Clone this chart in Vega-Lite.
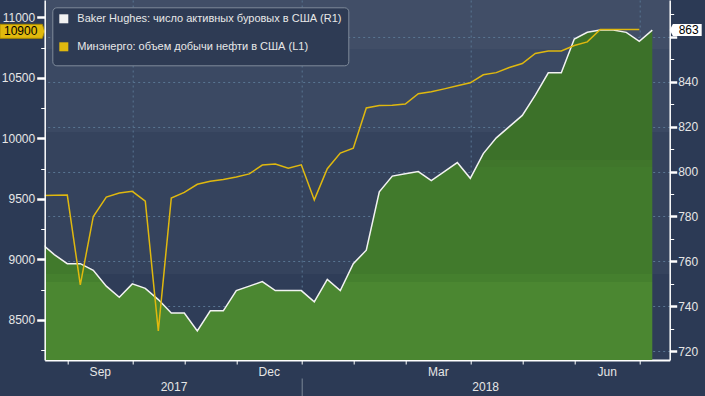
{
  "$schema": "https://vega.github.io/schema/vega-lite/v6.json",
  "width": 625,
  "height": 360,
  "autosize": {"type": "none"},
  "padding": {"left": 44.7, "top": 0, "right": 35.3, "bottom": 36},
  "background": "#2c3a55",
  "config": {
    "font": "Liberation Sans",
    "view": {
      "stroke": null,
      "fill": {
        "gradient": "linear", "x1": 0, "y1": 0, "x2": 0, "y2": 1,
        "stops": [
          {"offset": 0, "color": "#414e67"},
          {"offset": 0.136, "color": "#414e67"},
          {"offset": 0.136, "color": "#3b4963"},
          {"offset": 0.367, "color": "#3b4963"},
          {"offset": 0.367, "color": "#35435d"},
          {"offset": 0.761, "color": "#35435d"},
          {"offset": 0.761, "color": "#2f3d58"},
          {"offset": 1, "color": "#2f3d58"}
        ]
      }
    },
    "axis": {"labelFont": "Liberation Sans", "labelFontSize": 12, "labelColor": "#e6e6e6", "title": null}
  },
  "data": {
    "values": [
      {"date": "2017-08-18", "rigs": 768, "prod": 9528},
      {"date": "2017-08-25", "rigs": 763, "prod": 9530},
      {"date": "2017-09-01", "rigs": 759, "prod": 9532},
      {"date": "2017-09-08", "rigs": 759, "prod": 8790},
      {"date": "2017-09-15", "rigs": 756, "prod": 9355},
      {"date": "2017-09-22", "rigs": 749, "prod": 9515},
      {"date": "2017-09-29", "rigs": 744, "prod": 9549},
      {"date": "2017-10-06", "rigs": 750, "prod": 9563},
      {"date": "2017-10-13", "rigs": 748, "prod": 9481},
      {"date": "2017-10-20", "rigs": 743, "prod": 8410},
      {"date": "2017-10-27", "rigs": 737, "prod": 9508},
      {"date": "2017-11-03", "rigs": 737, "prod": 9554},
      {"date": "2017-11-10", "rigs": 729, "prod": 9621},
      {"date": "2017-11-17", "rigs": 738, "prod": 9645},
      {"date": "2017-11-24", "rigs": 738, "prod": 9660},
      {"date": "2017-12-01", "rigs": 747, "prod": 9681},
      {"date": "2017-12-08", "rigs": 749, "prod": 9707},
      {"date": "2017-12-15", "rigs": 751, "prod": 9780},
      {"date": "2017-12-22", "rigs": 747, "prod": 9789},
      {"date": "2017-12-29", "rigs": 747, "prod": 9754},
      {"date": "2018-01-05", "rigs": 747, "prod": 9782},
      {"date": "2018-01-12", "rigs": 742, "prod": 9492},
      {"date": "2018-01-19", "rigs": 752, "prod": 9750},
      {"date": "2018-01-26", "rigs": 747, "prod": 9879},
      {"date": "2018-02-02", "rigs": 759, "prod": 9919},
      {"date": "2018-02-09", "rigs": 765, "prod": 10251},
      {"date": "2018-02-16", "rigs": 791, "prod": 10271},
      {"date": "2018-02-23", "rigs": 798, "prod": 10273},
      {"date": "2018-03-02", "rigs": 799, "prod": 10283},
      {"date": "2018-03-09", "rigs": 800, "prod": 10369},
      {"date": "2018-03-16", "rigs": 796, "prod": 10385},
      {"date": "2018-03-23", "rigs": 800, "prod": 10409},
      {"date": "2018-03-30", "rigs": 804, "prod": 10434},
      {"date": "2018-04-06", "rigs": 797, "prod": 10459},
      {"date": "2018-04-13", "rigs": 808, "prod": 10525},
      {"date": "2018-04-20", "rigs": 815, "prod": 10543},
      {"date": "2018-04-27", "rigs": 820, "prod": 10585},
      {"date": "2018-05-04", "rigs": 825, "prod": 10618},
      {"date": "2018-05-11", "rigs": 834, "prod": 10701},
      {"date": "2018-05-18", "rigs": 844, "prod": 10721},
      {"date": "2018-05-25", "rigs": 844, "prod": 10722},
      {"date": "2018-06-01", "rigs": 859, "prod": 10767},
      {"date": "2018-06-08", "rigs": 862, "prod": 10797},
      {"date": "2018-06-15", "rigs": 863, "prod": 10900},
      {"date": "2018-06-22", "rigs": 863, "prod": 10900},
      {"date": "2018-06-29", "rigs": 862, "prod": 10900},
      {"date": "2018-07-06", "rigs": 858, "prod": 10900},
      {"date": "2018-07-13", "rigs": 863}
    ]
  },
  "layer": [
    {
      "encoding": {
        "x": {
          "field": "date", "type": "temporal",
          "scale": {"type": "utc", "domain": [{"year": 2017, "month": 8, "date": 19, "hours": 20, "utc": true}, {"year": 2018, "month": 7, "date": 22, "hours": 9, "utc": true}]},
          "axis": {
            "orient": "bottom",
            "values": [
              {"year": 2017, "month": 9, "date": 1, "utc": true},
              {"year": 2017, "month": 10, "date": 6, "utc": true},
              {"year": 2017, "month": 11, "date": 3, "utc": true},
              {"year": 2017, "month": 12, "date": 1, "utc": true},
              {"year": 2018, "month": 1, "date": 5, "utc": true},
              {"year": 2018, "month": 2, "date": 2, "utc": true},
              {"year": 2018, "month": 3, "date": 2, "utc": true},
              {"year": 2018, "month": 4, "date": 6, "utc": true},
              {"year": 2018, "month": 5, "date": 4, "utc": true},
              {"year": 2018, "month": 6, "date": 1, "utc": true},
              {"year": 2018, "month": 7, "date": 6, "utc": true}
            ],
            "labelExpr": "indexof([8,11,2,5], utcmonth(datum.value)) >= 0 ? utcFormat(datum.value, '%b') : ''",
            "labelOffset": 32.5,
            "labelAlign": "center",
            "labelPadding": 2,
            "labelFlush": false,
            "labelOverlap": false,
            "labelBound": false,
            "domainColor": "#ffffff",
            "domainWidth": 2,
            "tickColor": "#ffffff",
            "tickSize": 4,
            "tickWidth": 1,
            "grid": true,
            "gridColor": "#587592",
            "gridDash": [2, 3],
            "gridWidth": 1,
            "gridOpacity": {"condition": {"test": "indexof([9,0,3,6], utcmonth(datum.value)) >= 0", "value": 1}, "value": 0}
          }
        },
        "y": {
          "field": "rigs", "type": "quantitative",
          "scale": {"domain": [716.1, 876.4], "nice": false, "zero": false},
          "axis": {
            "orient": "right",
            "values": [720, 730, 740, 750, 760, 770, 780, 790, 800, 810, 820, 830, 840, 850, 860, 870],
            "labelExpr": "datum.value % 20 === 0 && datum.value !== 860 ? datum.label : ''",
            "labelPadding": 1,
            "domainColor": "#ffffff",
            "domainWidth": 1.5,
            "tickColor": "#ffffff",
            "tickSize": {"condition": {"test": "datum.value % 20 === 0", "value": 7}, "value": 4},
            "tickWidth": {"condition": {"test": "datum.value % 20 === 0", "value": 2.5}, "value": 1},
            "grid": true,
            "gridColor": "#587592",
            "gridDash": [2, 3],
            "gridWidth": 1,
            "gridOpacity": {"condition": {"test": "datum.value % 20 === 0", "value": 1}, "value": 0}
          }
        }
      },
      "layer": [
        {
          "mark": {
            "type": "area", "clip": true,
            "fill": {
              "gradient": "linear", "x1": 0, "y1": 0, "x2": 0, "y2": 1,
              "stops": [
                {"offset": 0, "color": "#3c7129"},
                {"offset": 0.394, "color": "#3c7129"},
                {"offset": 0.394, "color": "#40762b"},
                {"offset": 0.415, "color": "#40762b"},
                {"offset": 0.415, "color": "#417a2c"},
                {"offset": 0.739, "color": "#417a2c"},
                {"offset": 0.739, "color": "#45802e"},
                {"offset": 0.764, "color": "#45802e"},
                {"offset": 0.764, "color": "#4b8731"},
                {"offset": 1, "color": "#4b8731"}
              ]
            }
          },
          "encoding": {"y2": {"datum": 716.1}}
        },
        {
          "mark": {"type": "line", "clip": true, "strokeWidth": 1.5},
          "encoding": {
            "color": {
              "datum": "Baker Hughes: число активных буровых в США (R1)",
              "scale": {
                "domain": ["Baker Hughes: число активных буровых в США (R1)", "Минэнерго: объем добычи нефти в США (L1)"],
                "range": ["#f2f2f2", "#dfb80f"]
              },
              "legend": {
                "orient": "none", "legendX": 7.6, "legendY": 7.3,
                "title": null,
                "symbolType": "square", "symbolSize": 16, "symbolStrokeWidth": 5,
                "fillColor": "#2e3b54", "strokeColor": "#7f8b9b", "cornerRadius": 4,
                "padding": 6, "rowPadding": 3, "labelOffset": 8,
                "labelColor": "#e8e8e8", "labelFont": "Liberation Sans", "labelFontSize": 11, "labelLimit": 400
              }
            }
          }
        },
        {
          "transform": [
            {"window": [{"op": "row_number", "as": "rn"}], "sort": [{"field": "date", "order": "descending"}]},
            {"filter": "datum.rn === 1"}
          ],
          "mark": {"type": "point", "shape": "M0,0L0.2,-0.375L2,-0.375L2,0.375L0.2,0.375Z", "size": 1024, "filled": true, "fill": "#ffffff", "opacity": 1, "strokeWidth": 0},
          "encoding": {"x": {"value": "width"}}
        },
        {
          "transform": [
            {"window": [{"op": "row_number", "as": "rn"}], "sort": [{"field": "date", "order": "descending"}]},
            {"filter": "datum.rn === 1"}
          ],
          "mark": {"type": "text", "dx": 19, "align": "center", "baseline": "middle", "color": "#000000", "font": "Liberation Sans", "fontSize": 12},
          "encoding": {"x": {"value": "width"}, "text": {"field": "rigs", "type": "quantitative", "format": "d"}}
        }
      ]
    },
    {
      "transform": [{"filter": "isValid(datum.prod)"}],
      "encoding": {
        "x": {
          "field": "date", "type": "temporal",
          "scale": {"type": "utc", "domain": [{"year": 2017, "month": 8, "date": 19, "hours": 20, "utc": true}, {"year": 2018, "month": 7, "date": 22, "hours": 9, "utc": true}]},
          "axis": {
            "orient": "bottom",
            "offset": 18,
            "domain": false,
            "grid": false,
            "values": [
              {"year": 2017, "month": 10, "date": 28, "hours": 5, "utc": true},
              {"year": 2018, "month": 1, "date": 5, "utc": true},
              {"year": 2018, "month": 4, "date": 14, "utc": true}
            ],
            "labelExpr": "utcmonth(datum.value) === 0 ? '' : utcFormat(datum.value, '%Y')",
            "labelAlign": "center",
            "labelPadding": -15,
            "labelFlush": false,
            "labelOverlap": false,
            "labelBound": false,
            "tickSize": 18,
            "tickWidth": 1,
            "tickColor": "#7c8797",
            "tickOpacity": {"condition": {"test": "utcmonth(datum.value) === 0", "value": 1}, "value": 0}
          }
        },
        "y": {
          "field": "prod", "type": "quantitative",
          "scale": {"domain": [8169.6, 11142.9], "nice": false, "zero": false},
          "axis": {
            "orient": "left",
            "zindex": 1,
            "values": [8250, 8500, 8750, 9000, 9250, 9500, 9750, 10000, 10250, 10500, 10750, 11000],
            "format": "d",
            "labelExpr": "datum.value % 500 === 0 ? datum.label : ''",
            "labelPadding": 2,
            "domainColor": "#ffffff",
            "domainWidth": 1.5,
            "tickColor": "#ffffff",
            "tickSize": {"condition": {"test": "datum.value % 500 === 0", "value": 8}, "value": 4},
            "tickWidth": {"condition": {"test": "datum.value % 500 === 0", "value": 2.5}, "value": 1},
            "grid": false
          }
        }
      },
      "layer": [
        {
          "mark": {"type": "line", "clip": true, "strokeWidth": 1.5},
          "encoding": {"color": {"datum": "Минэнерго: объем добычи нефти в США (L1)"}}
        },
        {
          "transform": [
            {"window": [{"op": "row_number", "as": "rn"}], "sort": [{"field": "date", "order": "descending"}]},
            {"filter": "datum.rn === 1"}
          ],
          "mark": {"type": "point", "shape": "M0,0.12L-0.15,-0.3175L-2.8,-0.3175L-2.8,0.5575L-0.15,0.5575Z", "size": 1024, "filled": true, "fill": "#e0b90d", "stroke": "#a88a00", "strokeWidth": 1, "opacity": 1},
          "encoding": {"x": {"value": 0}}
        },
        {
          "transform": [
            {"window": [{"op": "row_number", "as": "rn"}], "sort": [{"field": "date", "order": "descending"}]},
            {"filter": "datum.rn === 1"}
          ],
          "mark": {"type": "text", "dx": -24, "dy": 2, "align": "center", "baseline": "middle", "color": "#000000", "font": "Liberation Sans", "fontSize": 12},
          "encoding": {"x": {"value": 0}, "text": {"field": "prod", "type": "quantitative", "format": "d"}}
        }
      ]
    }
  ],
  "resolve": {"scale": {"x": "independent", "y": "independent"}}
}
